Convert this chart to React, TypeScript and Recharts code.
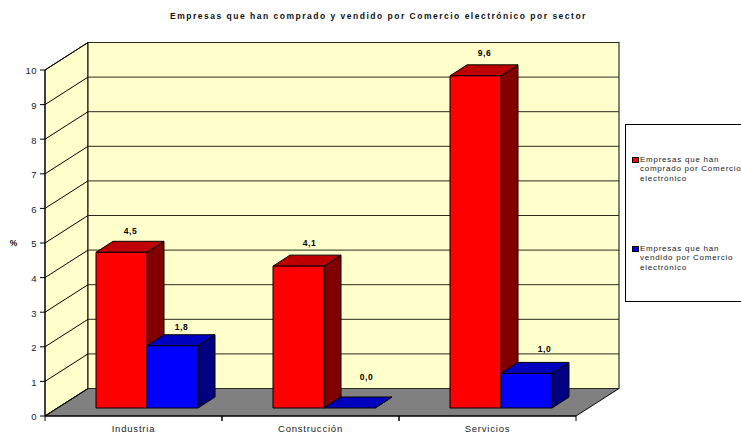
import { Bar, BarChart, CartesianGrid, LabelList, Legend, ReferenceArea, XAxis, YAxis } from 'recharts';

const title = 'Empresas que han comprado y vendido por Comercio electrónico por sector';
const sectors = ['Industria', 'Construcción', 'Servicios'];
const bought = [4.5, 4.1, 9.6];
const sold = [1.8, 0.0, 1.0];
const boughtName = 'Empresas que han comprado por Comercio electrónico';
const soldName = 'Empresas que han vendido por Comercio electrónico';
const yTicks = [0, 1, 2, 3, 4, 5, 6, 7, 8, 9, 10];

const data = sectors.map((sector, i) => ({ sector, bought: bought[i], sold: sold[i] }));

// 3D look: depth of the box, depth of a bar, and how far bars sit behind the front plane
const BOX_DX = 43;
const BOX_DY = -27.5;
const BAR_DX = 17;
const BAR_DY = -11;
const SHIFT_X = 13;
const SHIFT_Y = -8;

const FONT = '"Liberation Sans", Arial, sans-serif';

const darker = { '#ff0000': ['#bf0000', '#800000'], '#0000ff': ['#0000bf', '#000080'] };

const Box3D = (props: any) => {
  const { x, y, width, height, fill } = props;
  const l = x + SHIFT_X;
  const t = y + SHIFT_Y;
  const r = l + width;
  const b = t + height;
  const [topFill, sideFill] = darker[fill];
  return (
    <g stroke="#000" strokeWidth={1} strokeLinejoin="round">
      <polygon fill={sideFill} points={`${r},${t} ${r + BAR_DX},${t + BAR_DY} ${r + BAR_DX},${b + BAR_DY} ${r},${b}`} />
      <polygon fill={topFill} points={`${l},${t} ${l + BAR_DX},${t + BAR_DY} ${r + BAR_DX},${t + BAR_DY} ${r},${t}`} />
      <rect x={l} y={t} width={width} height={height} fill={fill} />
    </g>
  );
};

const Walls = ({ x, y, width, height }: any) => {
  const r = x + width;
  const b = y + height;
  return (
    <g stroke="#000" strokeWidth={1}>
      <polygon fill="#ffffcc" points={`${x},${y} ${x + BOX_DX},${y + BOX_DY} ${x + BOX_DX},${b + BOX_DY} ${x},${b}`} />
      <rect x={x + BOX_DX} y={y + BOX_DY} width={width} height={height} fill="#ffffcc" />
      <line x1={r + BOX_DX} x2={r + BOX_DX} y1={y + BOX_DY} y2={b + BOX_DY} stroke="#808080" />
      <polygon fill="#808080" points={`${x},${b} ${r},${b} ${r + BOX_DX},${b + BOX_DY} ${x + BOX_DX},${b + BOX_DY}`} />
    </g>
  );
};

const WallLine = (props: any) => {
  const { x1, x2, y1 } = props;
  return (
    <g key={props.key ?? y1} fill="none" strokeWidth={1}>
      <line x1={x1} y1={y1} x2={x1 + BOX_DX} y2={y1 + BOX_DY} stroke="#000" />
      <line x1={x1 + BOX_DX} y1={y1 + BOX_DY} x2={x2 + BOX_DX} y2={y1 + BOX_DY} stroke="#2a2a20" />
    </g>
  );
};

const SectorTick = ({ x, y, payload, band }: any) => (
  <g>
    <line x1={x - band / 2} x2={x - band / 2} y1={y - 8} y2={y - 3} stroke="#000" />
    <line x1={x + band / 2} x2={x + band / 2} y1={y - 8} y2={y - 3} stroke="#000" />
    <text x={x} y={y + 8} textAnchor="middle" fontSize={9.5} letterSpacing={0.8} fontFamily={FONT} fill="#222">
      {payload.value}
    </text>
  </g>
);

// hand nudges for the value labels, Excel places them a bit unevenly
const boughtNudge = [[9, -21], [11, -23], [9, -23]];
const soldNudge = [[9, -19], [17, -31], [18, -24]];

const valueLabel = (nudge: number[][]) => (props: any) => {
  const { x, y, width, value, index } = props;
  const [dx, dy] = nudge[index];
  return (
    <text
      x={x + SHIFT_X + width / 2 + dx}
      y={y + SHIFT_Y + dy + 3}
      textAnchor="middle"
      fontSize={8.5}
      fontWeight="bold"
      letterSpacing={0.5}
      fontFamily={FONT}
      fill="#000"
    >
      {Number(value).toFixed(1).replace('.', ',')}
    </text>
  );
};

const LegendBox = ({ payload }: any) => (
  <div
    style={{
      boxSizing: 'border-box',
      width: 130,
      height: 178,
      border: '1px solid #000',
      background: '#fff',
      fontFamily: FONT,
      fontSize: 8,
      letterSpacing: 0.75,
      lineHeight: '9.5px',
      color: '#222',
    }}
  >
    {(payload ?? []).map((item: any, i: number) => (
      <div key={item.value} style={{ position: 'absolute', left: 7, top: i === 0 ? 30.5 : 119.5, display: 'flex' }}>
        <span
          style={{
            boxSizing: 'border-box',
            width: 7,
            height: 6,
            marginTop: 2,
            marginRight: 1,
            border: '1px solid #000',
            background: item.color,
            flex: 'none',
          }}
        />
        <span style={{ width: 104 }}>{item.value}</span>
      </div>
    ))}
  </div>
);

export default function App() {
  return (
    <div style={{ position: 'absolute', left: 0, top: 0, width: 741, height: 434, overflow: 'hidden' }}>
      <BarChart
        width={741}
        height={434}
        data={data}
        margin={{ top: 70, right: 165, bottom: 0, left: 0 }}
        barCategoryGap={38}
        barGap={0}
      >
        <ReferenceArea y1={0} y2={10} shape={<Walls />} zIndex={-200} ifOverflow="visible" />
        <CartesianGrid vertical={false} horizontal={WallLine} />
        <XAxis
          dataKey="sector"
          height={18}
          interval={0}
          tickLine={false}
          stroke="#000"
          tick={<SectorTick band={177} />}
        />
        <YAxis
          width={45}
          domain={[0, 10]}
          ticks={yTicks}
          interval={0}
          tickSize={5}
          tickMargin={3}
          stroke="#000"
          tick={{ fontSize: 9.5, fill: '#222', fontFamily: FONT, letterSpacing: 0.5, dy: 1 }}
        />
        <Legend
          layout="vertical"
          align="center"
          verticalAlign="middle"
          content={<LegendBox />}
          wrapperStyle={{ left: 625, top: 124, width: 130, height: 178 }}
        />
        <Bar dataKey="bought" name={boughtName} fill="#ff0000" shape={<Box3D />} isAnimationActive={false}>
          <LabelList dataKey="bought" content={valueLabel(boughtNudge)} />
        </Bar>
        <Bar dataKey="sold" name={soldName} fill="#0000ff" shape={<Box3D />} isAnimationActive={false}>
          <LabelList dataKey="sold" content={valueLabel(soldNudge)} />
        </Bar>
        <text x={378.5} y={19} textAnchor="middle" fontSize={8.5} fontWeight="bold" letterSpacing={1.5} fontFamily={FONT} fill="#111">
          {title}
        </text>
        <text x={13.5} y={246} textAnchor="middle" fontSize={8.5} fontWeight="bold" fontFamily={FONT} fill="#111">
          %
        </text>
      </BarChart>
    </div>
  );
}
